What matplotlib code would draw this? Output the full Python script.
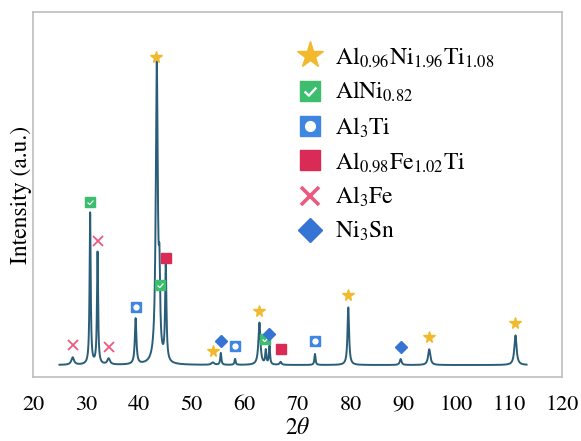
import numpy as np
import matplotlib
matplotlib.use("Agg")
import matplotlib.pyplot as plt
from matplotlib.path import Path
from matplotlib.lines import Line2D
from matplotlib.legend_handler import HandlerTuple

plt.rcParams['font.family'] = ['STIXGeneral', 'DejaVu Serif']
plt.rcParams['mathtext.fontset'] = 'stix'

# Peak data (2theta, relative intensity, width)
peak_pos = [27.5, 30.8, 32.2, 34.3, 39.4, 43.4, 43.9, 45.1, 54.0, 55.5, 58.2,
            62.8, 64.0, 64.7, 66.8, 73.3, 79.6, 89.5, 94.9, 111.2]
peak_int = [2.5, 51, 37.7, 2.0, 15.4, 100, 23, 32, 0.8, 4.0, 2.0,
            14.2, 4.7, 6.2, 1.0, 3.7, 19.4, 2.0, 5.3, 10.0]
peak_fwhm = [0.6, 0.25, 0.25, 0.6, 0.35, 0.45, 0.3, 0.3, 0.6, 0.25, 0.25,
             0.45, 0.25, 0.25, 0.4, 0.25, 0.35, 0.4, 0.5, 0.5]
two_theta_range = [25.0, 113.3]

# Phase markers (2theta, marker height)
star_x = [43.3, 54.0, 62.7, 79.6, 94.9, 111.2]
star_y = [103.7, 4.8, 18.2, 23.6, 9.3, 14.0]
check_x = [30.8, 44.0, 63.9]
check_y = [55.0, 26.8, 8.75]
opensq_x = [39.4, 58.2, 73.3]
opensq_y = [19.6, 6.5, 8.1]
redsq_x = [45.1, 66.8]
redsq_y = [36.1, 5.3]
cross_x = [27.5, 32.2, 34.4]
cross_y = [6.8, 41.8, 6.0]
diam_x = [55.5, 64.7, 89.5]
diam_y = [8.2, 10.3, 6.2]

labels = [r'Al$_{0.96}$Ni$_{1.96}$Ti$_{1.08}$', r'AlNi$_{0.82}$', r'Al$_3$Ti',
          r'Al$_{0.98}$Fe$_{1.02}$Ti', r'Al$_3$Fe', r'Ni$_3$Sn']
xticks = [20, 30, 40, 50, 60, 70, 80, 90, 100, 110, 120]

GOLD = '#F1B92B'
GREEN = '#3DBE6E'
BLUE = '#3F86E0'
RED = '#D92B55'
PINK = '#EC5A80'
DBLUE = '#3574D4'
LINE = '#2A5E78'

x = np.linspace(two_theta_range[0], two_theta_range[1], 6000)
y = np.zeros_like(x)
for p, h, w in zip(peak_pos, peak_int, peak_fwhm):
    g = w / 2
    y += h * g**2 / ((x - p)**2 + g**2)

fig = plt.figure(figsize=(5.81, 4.41), dpi=100)
ax = fig.add_axes([0.0568, 0.145, 0.9105, 0.828])
ax.plot(x, y, color=LINE, lw=1.4, zorder=2)

check_path = Path([(-0.45, 0.0), (-0.12, -0.32), (0.45, 0.3)],
                  [Path.MOVETO, Path.LINETO, Path.LINETO])

def star(ms):
    return [Line2D([], [], ls='none', marker='*', ms=ms, color=GOLD, mec=GOLD)]

def check(ms):
    return [Line2D([], [], ls='none', marker='s', ms=ms, color=GREEN, mec=GREEN),
            Line2D([], [], ls='none', marker=check_path, ms=ms*0.6, mfc='none',
                   mec='white', mew=ms*0.12)]

def opensq(ms):
    return [Line2D([], [], ls='none', marker='s', ms=ms, color=BLUE, mec=BLUE),
            Line2D([], [], ls='none', marker='o', ms=ms*0.5, color='white', mec='white')]

def redsq(ms):
    return [Line2D([], [], ls='none', marker='s', ms=ms, color=RED, mec=RED)]

def cross(ms):
    return [Line2D([], [], ls='none', marker='x', ms=ms, color=PINK, mec=PINK, mew=ms*0.2)]

def diam(ms):
    return [Line2D([], [], ls='none', marker='D', ms=ms*0.75, color=DBLUE, mec=DBLUE)]

groups = [(star, star_x, star_y, 8.5), (check, check_x, check_y, 7),
          (opensq, opensq_x, opensq_y, 7), (redsq, redsq_x, redsq_y, 7),
          (cross, cross_x, cross_y, 6.5), (diam, diam_x, diam_y, 8)]
big = {star: 20, check: 14, opensq: 14, redsq: 14, cross: 13, diam: 16}
handles = []
for fn, gx, gy, ms in groups:
    for ln in fn(ms):
        ln.set_data(gx, gy)
        ln.set_zorder(3)
        ax.add_line(ln)
    handles.append(tuple(fn(big[fn])))

ax.legend(handles, labels, handler_map={tuple: HandlerTuple(ndivide=1, pad=0)},
          loc='upper left', bbox_to_anchor=(0.463, 0.953), frameon=False,
          fontsize=17, handlelength=1.3, handletextpad=0.4, labelspacing=0.46,
          borderaxespad=0.3)

ax.set_xlim(20, 120)
ax.set_ylim(-4.04, 118.8)
ax.set_xticks(xticks)
ax.set_yticks([])
ax.tick_params(axis='x', length=0, labelsize=16, pad=13)
for s in ax.spines.values():
    s.set_color('#BDBDBD')
    s.set_linewidth(1.2)
ax.set_xlabel(r'2$\it{\theta}$', fontsize=17)
ax.xaxis.set_label_coords(0.5, -0.11)
ax.set_ylabel('Intensity (a.u.)', fontsize=17, labelpad=1)

fig.savefig('out.png', dpi=100)
